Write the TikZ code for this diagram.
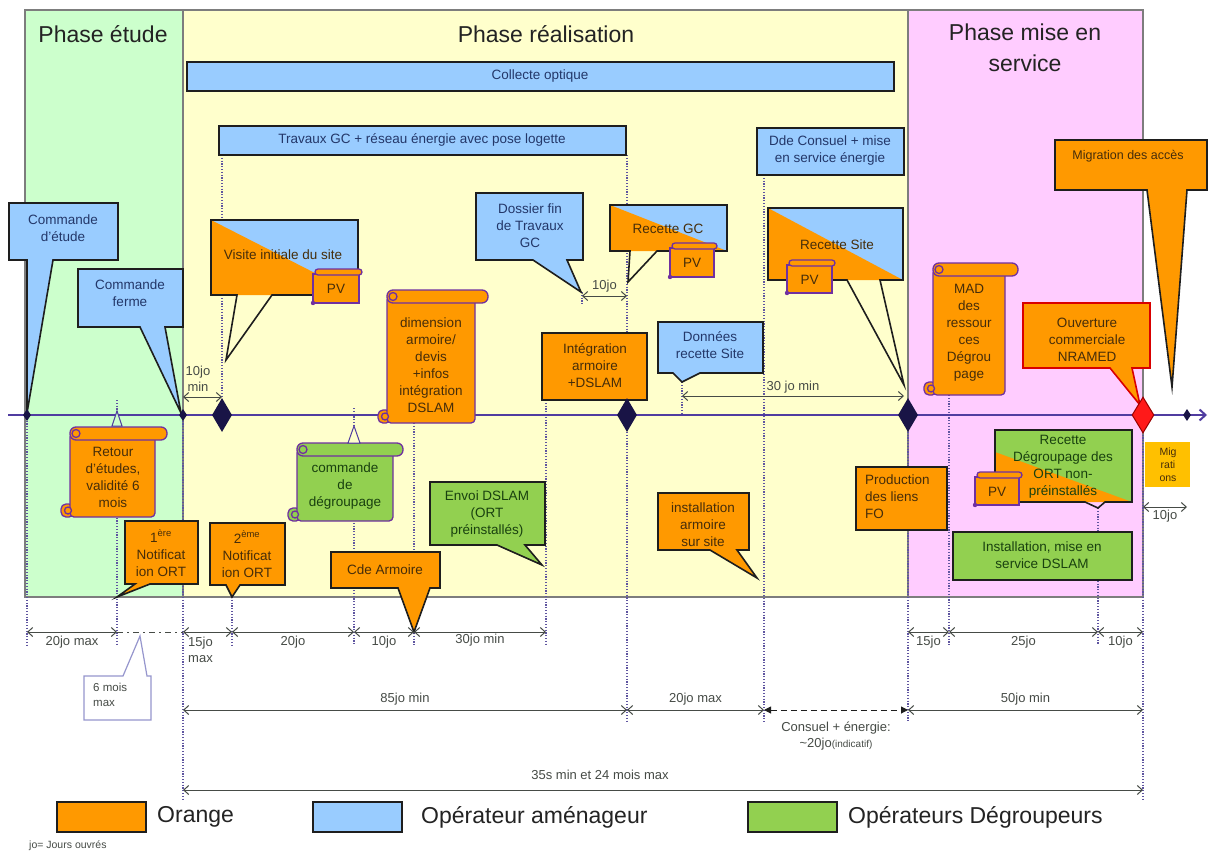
\documentclass[tikz,border=0pt]{standalone}
\usepackage{fontspec}
\setmainfont{Liberation Sans}
\usetikzlibrary{arrows.meta,shapes.geometric}
\definecolor{cOr}{RGB}{255,153,0}
\definecolor{cBl}{RGB}{153,204,255}
\definecolor{cGr}{RGB}{146,208,80}
\definecolor{bgGr}{RGB}{204,255,204}
\definecolor{bgYe}{RGB}{255,255,204}
\definecolor{bgPk}{RGB}{255,204,255}
\definecolor{cTl}{RGB}{80,60,160}
\definecolor{cNv}{RGB}{25,20,70}
\definecolor{cPu}{RGB}{112,48,160}
\definecolor{cDot}{RGB}{95,85,160}
\definecolor{cDim}{RGB}{70,75,70}
\definecolor{cBd}{RGB}{30,30,30}
\definecolor{cGold}{RGB}{255,192,0}
\definecolor{cFr}{RGB}{125,125,125}
\definecolor{cLav}{RGB}{150,150,205}
\definecolor{tBl}{RGB}{35,55,105}
\definecolor{tOr}{RGB}{70,45,10}
\definecolor{tGr}{RGB}{25,65,15}
\definecolor{cTi}{RGB}{35,35,35}
\tikzset{
 box/.style={draw=cBd, line width=1.6pt, line join=miter},
 scr/.style={draw=cPu, line width=1.3pt},
 txt/.style={font=\fontsize{13.5}{17}\selectfont, align=center, inner sep=0pt},
 title/.style={font=\fontsize{23}{31}\selectfont, text=cTi, align=center, inner sep=0pt},
 dotl/.style={draw=cDot, line width=1.2pt, dash pattern=on 1.2pt off 1.6pt},
 dim/.style={draw=cDim, line width=1pt, {Straight Barb[length=5pt,width=9pt]}-{Straight Barb[length=5pt,width=9pt]}},
 dlab/.style={font=\fontsize{13}{15.5}\selectfont, text=cDim, inner sep=1pt, align=center},
 bigdia/.style={diamond, fill=cNv, minimum width=20pt, minimum height=34pt, inner sep=0pt},
 smalldia/.style={diamond, fill=cNv, minimum width=8pt, minimum height=12pt, inner sep=0pt},
 legtxt/.style={font=\fontsize{23}{28}\selectfont, text=cTi, anchor=west, inner sep=0pt},
}
\newcommand\bub[8]{\draw[#1] (#2,#3) -- (#4,#3) -- (#4,#5) -- (#7,#5) -- #8 -- (#6,#5) -- (#2,#5) -- cycle;}
\newcommand\splitbub[9]{%
 \fill[#1] (#3,#4) rectangle (#5,#6);
 \fill[#2] (#3,#4) -- (#5,#6) -- (#3,#6) -- cycle;
 \bub{box}{#3}{#4}{#5}{#6}{#7}{#8}{#9}}
\newcommand\vscroll[7]{%
 \draw[scr,fill=#1,rounded corners=5] (#5-9,#7-13) rectangle (#5+4,#7);
 \draw[scr,fill=#1,rounded corners=4] (#5,#3+6) rectangle (#6,#7);
 \draw[scr,fill=#1,rounded corners=6] (#5,#3) rectangle (#4,#3+13);
 \draw[scr,fill=#1] (#5+6,#3+6.5) circle (4);
 \draw[scr,fill=#1] (#5-2,#7-6.5) circle (3.5);}
\newcommand\pv[5]{%
 \draw[scr,fill=cOr] (#2,#3+5) rectangle (#4-3,#5);
 \draw[scr,fill=cOr,rounded corners=3] (#2+2,#3) rectangle (#4,#3+6);
 \fill[cPu] (#2,#5) circle (2.2);
 \node[txt, text=tOr] (#1) at ({(#2+#4-3)/2},{(#3+#5)/2+3}) {PV};}
\begin{document}
\begin{tikzpicture}[x=1pt,y=-1pt]
\useasboundingbox (0,0) rectangle (1208,854);
\fill[white] (0,0) rectangle (1208,854);
% phases
\draw[fill=bgGr, draw=cFr, line width=1.5pt] (25,10) rectangle (183,597);
\draw[fill=bgYe, draw=cFr, line width=1.5pt] (183,10) rectangle (908,597);
\draw[fill=bgPk, draw=cFr, line width=1.5pt] (908,10) rectangle (1143,597);
\node[title] (t1) at (103,34) {Phase étude};
\node[title] (t2) at (546,34) {Phase réalisation};
\node[title] (t3) at (1025,48) {Phase mise en\\service};
% dotted guide lines
\foreach \x/\a/\b in {27/415/645, 117/400/645, 183/415/800, 222/155/415, 232/597/645, 354/408/645, 414/423/645, 546/400/645, 582/292/305, 627/155/722, 682/382/415, 764/175/722, 908/415/722, 949/395/645, 1098/508/645, 1143/415/800}
  \draw[dotl] (\x,\a) -- (\x,\b);
% bars
\draw[box, fill=cBl] (187,62) rectangle (894,91);
\node[txt, text=tBl] (co) at (540,76) {Collecte optique};
\draw[box, fill=cBl] (219,126) rectangle (626,155);
\node[txt, text=tBl] (tg) at (422,140) {Travaux GC + réseau énergie avec pose logette};
\draw[box, fill=cBl] (757,128) rectangle (904,175);
\node[txt, text=tBl] (dc) at (830,151) {Dde Consuel + mise\\en service énergie};
% timeline
\coordinate (tl0) at (8,415);
\coordinate (tl1) at (1207,415);
\draw[draw=cTl, line width=2pt, -{Straight Barb[length=6pt,width=11pt]}] (tl0) -- (tl1);
% blue callouts
\bub{box,fill=cBl}{9}{203}{118}{260}{27}{53}{(27,413)}
\node[txt, text=tBl] (ce) at (63,228) {Commande\\d'étude};
\bub{box,fill=cBl}{78}{269}{183}{327}{140}{165}{(181,413)}
\node[txt, text=tBl] (cf) at (130,293) {Commande\\ferme};
\bub{box,fill=cBl}{476}{193}{583}{260}{533}{567}{(581,292)}
\node[txt, text=tBl] (df) at (530,226) {Dossier fin\\de Travaux\\GC};
\bub{box,fill=cBl}{658}{322}{763}{373}{673}{700}{(682,382)}
\node[txt, text=tBl] (dr) at (710,345) {Données\\recette Site};
% orange callouts
\bub{box,fill=cOr}{1055}{140}{1207}{190}{1147}{1187}{(1172,387)}
\node[txt, text=tOr, font=\fontsize{12.5}{15}\selectfont] (mig) at (1128,156) {Migration des accès};
\bub{box,fill=cOr}{125}{521}{198}{584}{135}{150}{(117,597)}
\node[txt, text=tOr] (n1) at (161,553) {1\textsuperscript{ère}\\Notificat\\ion ORT};
\bub{box,fill=cOr}{210}{523}{285}{585}{226}{240}{(232,597)}
\node[txt, text=tOr] (n2) at (247,554) {2\textsuperscript{ème}\\Notificat\\ion ORT};
\bub{box,fill=cOr}{331}{552}{440}{588}{398}{430}{(414,632)}
\node[txt, text=tOr] (ca) at (385,570) {Cde Armoire};
\bub{box,fill=cOr}{658}{493}{749}{550}{710}{737}{(757,578)}
\node[txt, text=tOr] (ia) at (703,525) {installation\\armoire\\sur site};
\bub{box,fill=cOr,draw=red!85!black}{1023}{303}{1150}{368}{1110}{1132}{(1140,405)}
\node[txt, text=tOr] (oc) at (1087,340) {Ouverture\\commerciale\\NRAMED};
% green callout
\bub{box,fill=cGr}{430}{482}{545}{545}{497}{525}{(542,565)}
\node[txt, text=tGr] (ed) at (487,514) {Envoi DSLAM\\(ORT\\préinstallés)};
% split callouts
\splitbub{cBl}{cOr}{211}{220}{358}{295}{237}{272}{(226,360)}
\node[txt, text=tOr] (vi) at (283,255) {Visite initiale du site};
\splitbub{cBl}{cOr}{610}{205}{727}{251}{630}{657}{(628,282)}
\node[txt, text=tOr] (rg) at (668,229) {Recette GC};
\splitbub{cBl}{cOr}{768}{208}{903}{280}{847}{880}{(904,385)}
\node[txt, text=tOr] (rs) at (837,245) {Recette Site};
\fill[cGr] (995,430) rectangle (1132,502);
\fill[cOr] (995,452) -- (1132,502) -- (995,502) -- cycle;
\bub{box}{995}{430}{1132}{502}{1085}{1105}{(1098,508)}
\node[txt, text=tGr] (rd) at (1063,467) {Recette\\Dégroupage des\\ORT non-\\préinstallés};
% plain boxes
\draw[box, fill=cOr] (542,333) rectangle (647,400);
\node[txt, text=tOr] (ig) at (595,366) {Intégration\\armoire\\+DSLAM};
\draw[box, fill=cOr] (856,467) rectangle (947,530);
\node[txt, text=tOr, align=left, anchor=west] (pf) at (865,497) {Production\\des liens\\FO};
\draw[box, fill=cGr] (953,532) rectangle (1132,580);
\node[txt, text=tGr] (im) at (1042,555) {Installation, mise en\\service DSLAM};
\fill[cGold] (1145,442) rectangle (1190,487);
\node[txt, text=tOr, font=\fontsize{10.5}{13}\selectfont] (mr) at (1168,465) {Mig\\rati\\ons};
% scrolls
\vscroll{cOr}{60}{427}{167}{70}{155}{517}
\node[txt, text=tOr] (re) at (113,477) {Retour\\d'études,\\validité 6\\mois};
\vscroll{cOr}{373}{290}{488}{387}{475}{423}
\node[txt, text=tOr] (da) at (431,365) {dimension\\armoire/\\devis\\+infos\\intégration\\DSLAM};
\vscroll{cGr}{287}{443}{403}{297}{393}{521}
\node[txt, text=tGr] (cd) at (345,486) {commande\\de\\dégroupage};
\vscroll{cOr}{922}{263}{1018}{933}{1005}{395}
\node[txt, text=tOr] (mad) at (969,333) {MAD\\des\\ressour\\ces\\Dégrou\\page};
% PV scrolls
\pv{pv1}{313}{269}{362}{303}
\pv{pv2}{670}{243}{717}{277}
\pv{pv3}{787}{260}{835}{293}
\pv{pv4}{975}{472}{1022}{505}
% triangle markers
\draw[draw=cTl, line width=1pt, fill=bgGr] (117,411) -- (122,426) -- (112,426) -- cycle;
\draw[draw=cTl, line width=1pt, fill=bgYe] (354,426) -- (360,443) -- (348,443) -- cycle;
% milestones
\node[smalldia] (s1) at (27,415) {};
\node[smalldia] (s2) at (183,415) {};
\node[bigdia] (m1) at (222,415) {};
\node[bigdia] (m2) at (627,415) {};
\node[bigdia] (m3) at (908,415) {};
\node[diamond, fill=red!90!white, draw=red!60!black, line width=1pt, minimum width=22pt, minimum height=36pt, inner sep=0pt] (m4) at (1143,415) {};
\node[smalldia] (s3) at (1187,415) {};
% small dimension arrows in the diagram
\draw[dim] (183,397) -- (222,397);
\node[dlab] (l10a) at (198,379) {10jo\\min};
\draw[dim] (582,296) -- (627,296) node[midway, above=2pt, dlab] (l10b) {10jo};
\draw[dim] (682,396) -- (904,396) node[midway, above=1pt, dlab] (l30) {30 jo min};
\draw[dim] (1143,507) -- (1187,507) node[midway, below=2pt, dlab] (l10c) {10jo};
% row 1
\draw[dim] (27,632) -- (117,632) node[midway, below=3pt, dlab] (r1a) {20jo max};
\draw[draw=cDim, line width=1pt, dash pattern=on 6pt off 4pt on 2pt off 4pt] (117,632) -- (183,632);
\draw[dim] (183,632) -- (232,632);
\node[dlab, align=left, anchor=north west] (r1b) at (187,636) {15jo\\max};
\draw[dim] (232,632) -- (354,632) node[midway, below=3pt, dlab] (r1c) {20jo};
\draw[dim] (354,632) -- (414,632) node[midway, below=3pt, dlab] (r1d) {10jo};
\draw[dim] (414,632) -- (546,632) node[midway, below=1pt, dlab] (r1e) {30jo min};
\draw[dim] (908,632) -- (949,632) node[midway, below=3pt, dlab] (r1f) {15jo};
\draw[dim] (949,632) -- (1098,632) node[midway, below=3pt, dlab] (r1g) {25jo};
\draw[dim] (1098,632) -- (1143,632) node[midway, below=3pt, dlab] (r1h) {10jo};
% 6 mois max
\draw[fill=white, draw=cLav, line width=1.2pt] (84,676) -- (123,676) -- (140,636) -- (147,676) -- (151,676) -- (151,720) -- (84,720) -- cycle;
\node[dlab, align=left, anchor=north west, font=\fontsize{11.5}{15}\selectfont] (sm) at (92,682) {6 mois\\max};
% row 2
\draw[dim] (183,710) -- (627,710) node[midway, above=3pt, dlab] (r2a) {85jo min};
\draw[dim] (627,710) -- (764,710) node[midway, above=3pt, dlab] (r2b) {20jo max};
\draw[draw=cBd, line width=1pt, dash pattern=on 6pt off 4pt, {Triangle[length=7pt,width=7pt]}-{Triangle[length=7pt,width=7pt]}] (764,710) -- (908,710);
\node[dlab, anchor=north] (r2c) at (836,721) {Consuel + énergie:\\\textasciitilde 20jo{\fontsize{10}{12}\selectfont(indicatif)}};
\draw[dim] (908,710) -- (1143,710) node[midway, above=3pt, dlab] (r2d) {50jo min};
% row 3
\draw[dim] (183,790) -- (1143,790);
\node[dlab] (r3) at (600,775) {35s min et 24 mois max};
% legend
\draw[fill=cOr, draw=cBd, line width=1.2pt] (57,802) rectangle (146,832);
\node[legtxt] (lg1) at (157,817) {Orange};
\draw[fill=cBl, draw=cBd, line width=1.2pt] (313,802) rectangle (402,832);
\node[legtxt] (lg2) at (421,817) {Opérateur aménageur};
\draw[fill=cGr, draw=cBd, line width=1.2pt] (748,802) rectangle (837,832);
\node[legtxt] (lg3) at (848,817) {Opérateurs Dégroupeurs};
\node[dlab, anchor=west, font=\fontsize{10.5}{12}\selectfont] (jo) at (28,846) {jo= Jours ouvrés};
\end{tikzpicture}
\end{document}
